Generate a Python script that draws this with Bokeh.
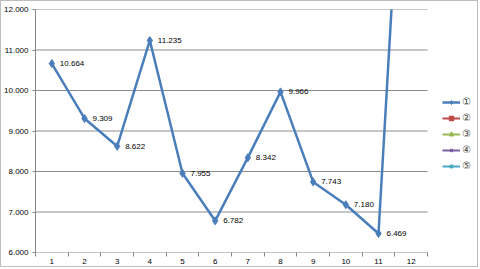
from bokeh.plotting import figure
from bokeh.models import (Range1d, FixedTicker, NumeralTickFormatter, Legend, LegendItem,
                          ColumnDataSource)
from bokeh.core.properties import value
from bokeh.embed import file_html
from bokeh.resources import INLINE

categories = list(range(1, 13))
series1 = [10.664, 9.309, 8.622, 11.235, 7.955, 6.782, 8.342, 9.966, 7.743, 7.180, 6.469, 20.4]
labels1 = ["10.664", "9.309", "8.622", "11.235", "7.955", "6.782", "8.342", "9.966",
           "7.743", "7.180", "6.469", ""]
series_names = ["①", "②", "③", "④", "⑤"]
series_colors = ["#4a7ebb", "#be4b48", "#98b954", "#7d60a0", "#46aac5"]
series_markers = ["diamond", "square", "triangle", "x", "asterisk"]
y_ticks = [6, 7, 8, 9, 10, 11, 12]

FONT = "Liberation Sans"

# layout (pixels)
W, H = 478, 267
LEFT, RIGHT_PAD, TOP, BOTTOM = 34, 2, 8, 16
PLOT_RIGHT = 426          # right end of the category area
frame_w = W - LEFT - RIGHT_PAD
slot = (PLOT_RIGHT - LEFT) / len(categories)
x_lo = 0.5
x_hi = x_lo + frame_w / slot
cat_lo, cat_hi = 0.5, len(categories) + 0.5

p = figure(width=W, height=H, output_backend="svg", toolbar_location=None,
           x_range=Range1d(x_lo, x_hi), y_range=Range1d(6, 12),
           min_border_left=LEFT, min_border_right=RIGHT_PAD,
           min_border_top=TOP, min_border_bottom=BOTTOM,
           styles={"border": "1px solid #bdbdbd"})
p.outline_line_color = None
p.background_fill_color = "white"
p.border_fill_color = "white"

# axes
p.xaxis.ticker = FixedTicker(ticks=categories,
                             minor_ticks=[c - 0.5 for c in categories] + [cat_hi])
p.xaxis.axis_line_color = None   # drawn by the gridline segment at y = 6
p.xaxis.major_tick_out = 0
p.xaxis.major_tick_in = 0
p.xaxis.minor_tick_out = 4
p.xaxis.minor_tick_in = 0
p.xaxis.major_label_standoff = 2
p.yaxis.ticker = FixedTicker(ticks=y_ticks)
p.yaxis.axis_line_color = "#868686"
p.yaxis.minor_tick_line_color = None
p.yaxis.major_tick_out = 3
p.yaxis.major_tick_in = 0
p.yaxis.major_label_standoff = 4
p.yaxis.formatter = NumeralTickFormatter(format="0.000")
p.xaxis.minor_tick_line_color = "#868686"
for ax in (p.xaxis, p.yaxis):
    ax.major_tick_line_color = "#868686"
    ax.major_label_text_font = FONT
    ax.major_label_text_font_size = "8px"
    ax.major_label_text_color = "#000000"

# horizontal gridlines limited to the category area
p.xgrid.grid_line_color = None
p.ygrid.grid_line_color = None
p.segment(x0=cat_lo, x1=cat_hi, y0=y_ticks, y1=y_ticks, line_color="#8c8c8c", line_width=1)

src = ColumnDataSource(dict(x=categories, y=series1, lab=labels1))
items = []
r_line = p.line("x", "y", source=src, line_color=series_colors[0], line_width=2.5)
r_mark = p.scatter("x", "y", source=src, marker=series_markers[0], size=8,
                   fill_color=series_colors[0], line_color=series_colors[0])
items.append(LegendItem(label=series_names[0], renderers=[r_line, r_mark]))
p.text("x", "y", text="lab", source=src, x_offset=8, text_baseline="middle",
       text_font=value(FONT), text_font_size="8px", text_color="#000000")

for name, col, mk in zip(series_names[1:], series_colors[1:], series_markers[1:]):
    s = ColumnDataSource(dict(x=[float("nan")], y=[float("nan")]))
    rl = p.line("x", "y", source=s, line_color=col, line_width=2)
    rm = p.scatter("x", "y", source=s, marker=mk, size=8, fill_color=col, line_color=col,
                   line_width=1.5)
    items.append(LegendItem(label=name, renderers=[rl, rm]))

legend = Legend(items=items, location=(407, 81), glyph_width=18, glyph_height=10,
                label_height=10, spacing=5, padding=0, margin=0, label_standoff=2,
                label_text_font=FONT, label_text_font_size="10px",
                border_line_color=None, background_fill_alpha=0)
p.add_layout(legend, "center")

open("out.html", "w").write(file_html(p, INLINE))
